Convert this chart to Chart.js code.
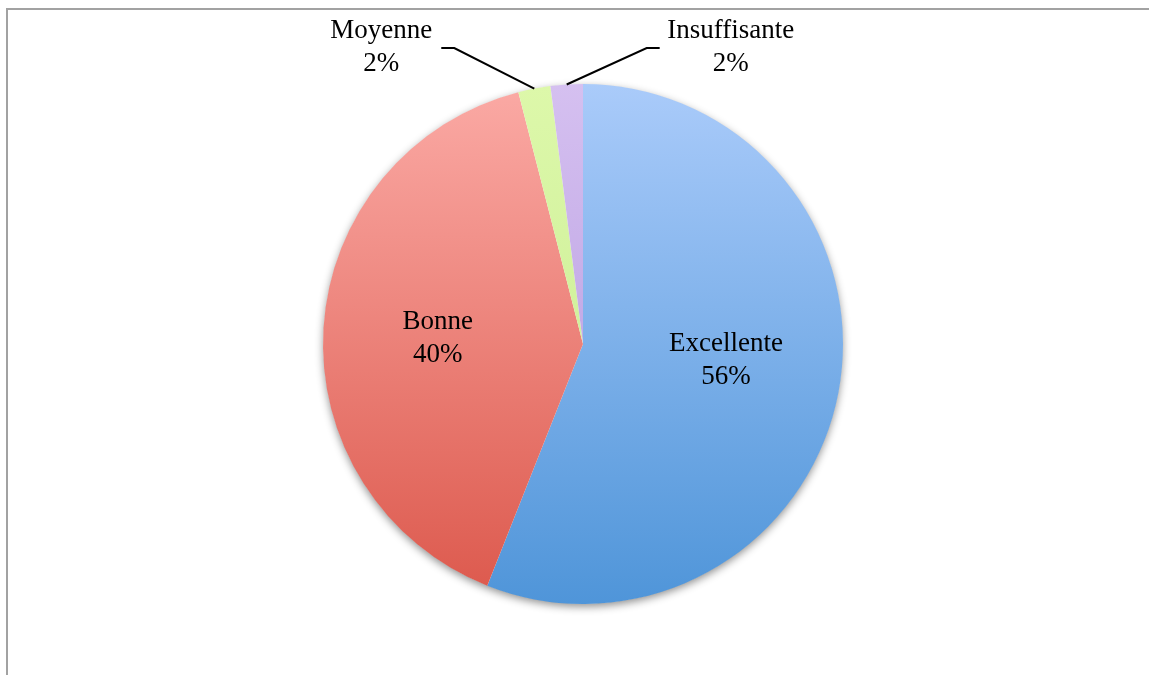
<!DOCTYPE html>
<html>
<head>
<meta charset="utf-8">
<title>Appréciation</title>
<script src="https://cdn.jsdelivr.net/npm/chart.js@4/dist/chart.umd.min.js"></script>
<style>
  html, body { margin: 0; padding: 0; background: #ffffff; overflow: hidden; }
  #frame {
    position: absolute; left: 6px; top: 8px; width: 1200px; height: 700px;
    border-left: 2px solid #a2a2a2; border-top: 2px solid #a2a2a2;
  }
  #pie { position: absolute; left: 0; top: 0; }
</style>
</head>
<body>
<div id="frame"></div>
<canvas id="pie" width="1149" height="675"></canvas>
<script>
const labels = ["Excellente", "Bonne", "Moyenne", "Insuffisante"];
const values = [56, 40, 2, 2];

// Top and bottom colour of each slice's gradient
const topColors = ["#aacbfa", "#fbaaa5", "#ddf8aa", "#d5c0f0"];
const bottomColors = ["#4f95d9", "#dc584c", "#c4ea8e", "#b093dc"];

// Small slices get their label outside, joined by a leader line
const outside = [false, false, true, true];
// Vertical nudge of the inside labels
const labelShift = [-11, 3, 0, 0];

const sliceFill = (context) => {
  const chart = context.chart;
  const area = chart.chartArea;
  if (!area) return topColors[context.dataIndex];
  const g = chart.ctx.createLinearGradient(0, area.top, 0, area.bottom);
  g.addColorStop(0, topColors[context.dataIndex]);
  g.addColorStop(1, bottomColors[context.dataIndex]);
  return g;
};

// Soft drop shadow under the whole pie
const pieShadow = {
  id: "pieShadow",
  beforeDatasetsDraw(chart) {
    const arc = chart.getDatasetMeta(0).data[0];
    if (!arc) return;
    const ctx = chart.ctx;
    ctx.save();
    ctx.shadowColor = "rgba(0,0,0,0.45)";
    ctx.shadowBlur = 9;
    ctx.shadowOffsetY = 3;
    ctx.fillStyle = "#ffffff";
    ctx.beginPath();
    ctx.arc(arc.x, arc.y, arc.outerRadius - 0.5, 0, Math.PI * 2);
    ctx.fill();
    ctx.restore();
  }
};

// Category name and percentage for every slice
const sliceLabels = {
  id: "sliceLabels",
  afterDatasetsDraw(chart) {
    const ctx = chart.ctx;
    const meta = chart.getDatasetMeta(0);
    const total = values.reduce((a, b) => a + b, 0);
    ctx.save();
    ctx.font = "27px 'Liberation Serif', serif";
    ctx.fillStyle = "#000000";
    ctx.textAlign = "center";
    ctx.textBaseline = "middle";
    meta.data.forEach((arc, i) => {
      const mid = (arc.startAngle + arc.endAngle) / 2;
      const pct = Math.round(values[i] / total * 100) + "%";
      if (!outside[i]) {
        const r = arc.outerRadius * 0.56;
        const x = arc.x + Math.cos(mid) * r;
        const y = arc.y + Math.sin(mid) * r + labelShift[i];
        ctx.fillText(labels[i], x, y - 16);
        ctx.fillText(pct, x, y + 17);
      } else {
        const sx = arc.x + Math.cos(mid) * arc.outerRadius;
        const sy = arc.y + Math.sin(mid) * arc.outerRadius;
        const side = i === 2 ? -1 : 1;
        const ex = sx + side * 80;
        const ey = arc.y - arc.outerRadius - 36;
        const hx = ex + side * 13;
        ctx.strokeStyle = "#000000";
        ctx.lineWidth = 2;
        ctx.beginPath();
        ctx.moveTo(sx, sy);
        ctx.lineTo(ex, ey);
        ctx.lineTo(hx, ey);
        ctx.stroke();
        const tx = side < 0 ? hx - 60 : hx + 71;
        ctx.fillText(labels[i], tx, ey - 17);
        ctx.fillText(pct, tx, ey + 16);
      }
    });
    ctx.restore();
  }
};

new Chart(document.getElementById("pie"), {
  type: "pie",
  plugins: [pieShadow, sliceLabels],
  data: {
    labels: labels,
    datasets: [{
      data: values,
      backgroundColor: sliceFill,
      borderWidth: 0
    }]
  },
  options: {
    responsive: false,
    animation: false,
    layout: { padding: { left: 323, right: 306, top: 84, bottom: 71 } },
    plugins: {
      legend: { display: false },
      tooltip: { enabled: false }
    }
  }
});
</script>
</body>
</html>
